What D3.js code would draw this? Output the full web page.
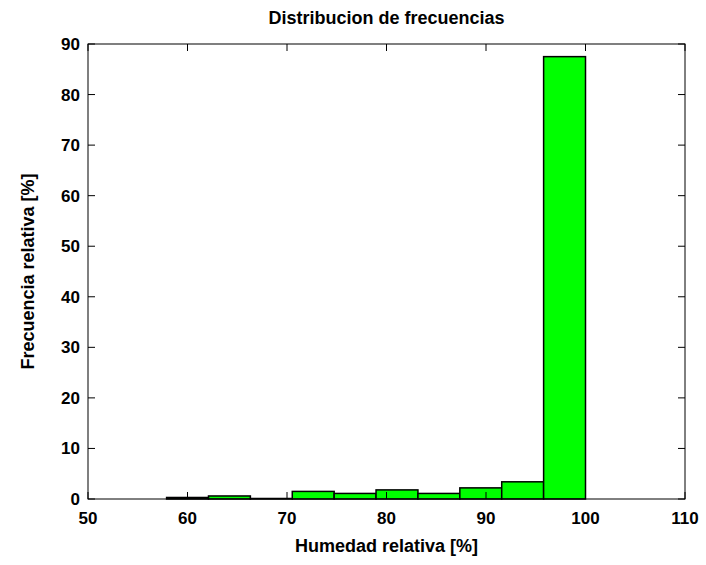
<!DOCTYPE html><html><head><meta charset="utf-8"><script src="https://cdn.jsdelivr.net/npm/d3@7"></script>
<style>body{margin:0;background:#fff}text{font-family:"Liberation Sans",Arial,sans-serif;font-weight:bold}</style></head><body><svg id="c" width="706" height="565"></svg><script>
const binStart=57.9, binWidth=4.21;
const freqs=[0.3,0.6,0.1,1.5,1.1,1.8,1.1,2.2,3.4,87.5];
const xTicks=[50,60,70,80,90,100,110];
const yTicks=[0,10,20,30,40,50,60,70,80,90];
const svg=d3.select("#c");
const L=88,R=685,T=44,B=499;
const x=d3.scaleLinear().domain([50,110]).range([L,R]);
const y=d3.scaleLinear().domain([0,90]).range([B,T]);
svg.selectAll("rect.b").data(freqs).enter().append("rect")
 .attr("x",(d,i)=>x(binStart+i*binWidth)).attr("width",(d,i)=>x(binStart+(i+1)*binWidth)-x(binStart+i*binWidth))
 .attr("y",d=>y(d)).attr("height",d=>B-y(d)).attr("fill","#00ff00").attr("stroke","#000").attr("stroke-width",1.5);
svg.append("rect").attr("x",L).attr("y",T).attr("width",R-L).attr("height",B-T).attr("fill","none").attr("stroke","#000").attr("stroke-width",1);
const g=svg.append("g");
xTicks.forEach(t=>{g.append("line").attr("x1",x(t)).attr("x2",x(t)).attr("y1",B).attr("y2",B-7).attr("stroke","#000");
 g.append("line").attr("x1",x(t)).attr("x2",x(t)).attr("y1",T).attr("y2",T+7).attr("stroke","#000");
 g.append("text").attr("x",x(t)).attr("y",B+25).attr("text-anchor","middle").attr("font-size",17).text(t);});
yTicks.forEach(t=>{g.append("line").attr("x1",L).attr("x2",L+7).attr("y1",y(t)).attr("y2",y(t)).attr("stroke","#000");
 g.append("line").attr("x1",R).attr("x2",R-7).attr("y1",y(t)).attr("y2",y(t)).attr("stroke","#000");
 g.append("text").attr("x",L-8).attr("y",y(t)+6).attr("text-anchor","end").attr("font-size",17).text(t);});
svg.append("text").attr("x",(L+R)/2).attr("y",24).attr("text-anchor","middle").attr("font-size",18).text("Distribucion de frecuencias");
svg.append("text").attr("x",(L+R)/2).attr("y",552).attr("text-anchor","middle").attr("font-size",18).text("Humedad relativa [%]");
svg.append("text").attr("transform",`translate(34,${(T+B)/2}) rotate(-90)`).attr("text-anchor","middle").attr("font-size",18).text("Frecuencia relativa [%]");
</script></body></html>
